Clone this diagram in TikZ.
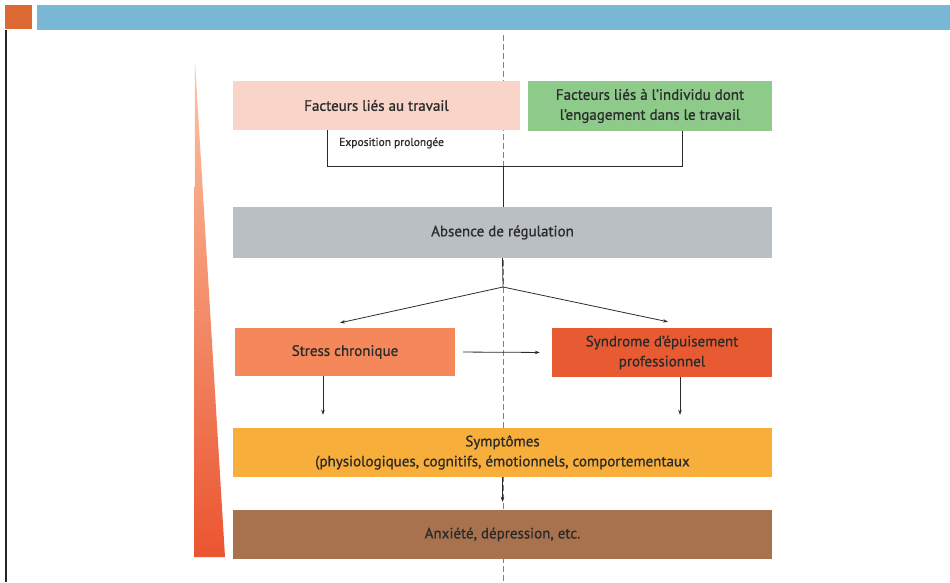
\documentclass[tikz,border=0pt]{standalone}
\usepackage{fontspec}
\setmainfont{PT Sans}
\newfontfamily\boxfont{PT Sans}[FakeBold=0.9]
\usetikzlibrary{arrows.meta}
\definecolor{barblue}{HTML}{79B8D4}
\definecolor{barorange}{HTML}{DE6A33}
\definecolor{travailpink}{HTML}{F9D4C8}
\definecolor{individugreen}{HTML}{8ECB8B}
\definecolor{regulgray}{HTML}{B9BFC2}
\definecolor{stressorange}{HTML}{F5885A}
\definecolor{epuisred}{HTML}{E85B32}
\definecolor{symptyellow}{HTML}{F8AE3B}
\definecolor{anxbrown}{HTML}{A8724F}
\definecolor{txtgray}{HTML}{2B2B2B}
\definecolor{wedgetop}{HTML}{FBC4A4}
\definecolor{wedgemid}{HTML}{F48A52}
\definecolor{wedgebot}{HTML}{EB5530}
\begin{document}
\begin{tikzpicture}[x=1pt, y=-1pt,
    box/.style={inner sep=0pt, align=center, text=txtgray, font=\boxfont\fontsize{15}{20}\selectfont},
    wide/.style={box, minimum width=539pt, minimum height=49pt},
    half/.style={box, minimum width=220pt, minimum height=48pt},
    link/.style={draw=txtgray, line width=0.8pt},
    arr/.style={link, -{Stealth[length=5pt, width=3.5pt]}}]
  \useasboundingbox (0, 0) rectangle (950, 582);

  % top bars and left rule
  \fill [barorange] (5, 5) rectangle (32, 29);
  \fill [barblue] (37, 5) rectangle (950, 30);
  \draw [line width=2pt, black!85] (6, 30) -- (6, 582);

  % dashed axis
  \draw [gray, dash pattern=on 6pt off 3pt, line width=0.7pt] (503, 35) -- (503, 582);

  % wedge
  \shade [top color=wedgetop, middle color=wedgemid, bottom color=wedgebot] (195, 62) -- (194, 557) -- (225, 557) -- cycle;

  % boxes
  \node [box, fill=travailpink, minimum width=287pt, minimum height=49pt] (travail) at (376.5, 105.5) {Facteurs liés au travail};
  \node [box, fill=individugreen, minimum width=244pt, minimum height=50pt] (individu) at (650, 106) {Facteurs liés à l’individu dont\\l’engagement dans le travail};
  \node [wide, fill=regulgray, minimum height=51pt] (regul) at (502.5, 232.5) {Absence de régulation};
  \node [half, fill=stressorange] (stress) at (345, 352) {Stress chronique};
  \node [half, fill=epuisred, minimum height=49pt] (epuis) at (662, 352.5) {Syndrome d’épuisement\\professionnel};
  \node [wide, fill=symptyellow] (sympt) at (502.5, 452.5) {Symptômes\\(physiologiques, cognitifs, émotionnels, comportementaux};
  \node [wide, fill=anxbrown] (anx) at (502.5, 534.5) {Anxiété, dépression, etc.};
  \node [box, font=\boxfont\fontsize{11.5}{13}\selectfont, anchor=west] (expo) at (339, 143) {Exposition prolongée};

  % bracket
  \coordinate (brL) at (327, 166);
  \coordinate (brR) at (682, 166);
  \coordinate (brM) at (503, 166);
  \coordinate (apex) at (503, 287);
  \draw [link] (travail.south -| brL) -- (brL) -- (brR) -- (individu.south -| brR);
  \draw [link] (brM) -- (regul.north -| brM);

  % arrows
  \draw [link] (regul.south) -- (apex);
  \draw [arr] (apex) -- ([xshift=-5pt, yshift=5pt]stress.north);
  \draw [arr] (apex) -- ([xshift=6pt, yshift=6pt]epuis.north);
  \draw [arr, shorten <=8pt, shorten >=12pt] (stress.east) -- (epuis.west);
  \draw [arr, shorten >=13pt] ([xshift=-22pt]stress.south) -- ([xshift=-22pt]stress.south |- sympt.north);
  \draw [arr, shorten >=13pt] ([xshift=18pt]epuis.south) -- ([xshift=18pt]epuis.south |- sympt.north);
  \draw [arr, shorten >=8pt] (sympt.south) -- (anx.north);
\end{tikzpicture}
\end{document}
